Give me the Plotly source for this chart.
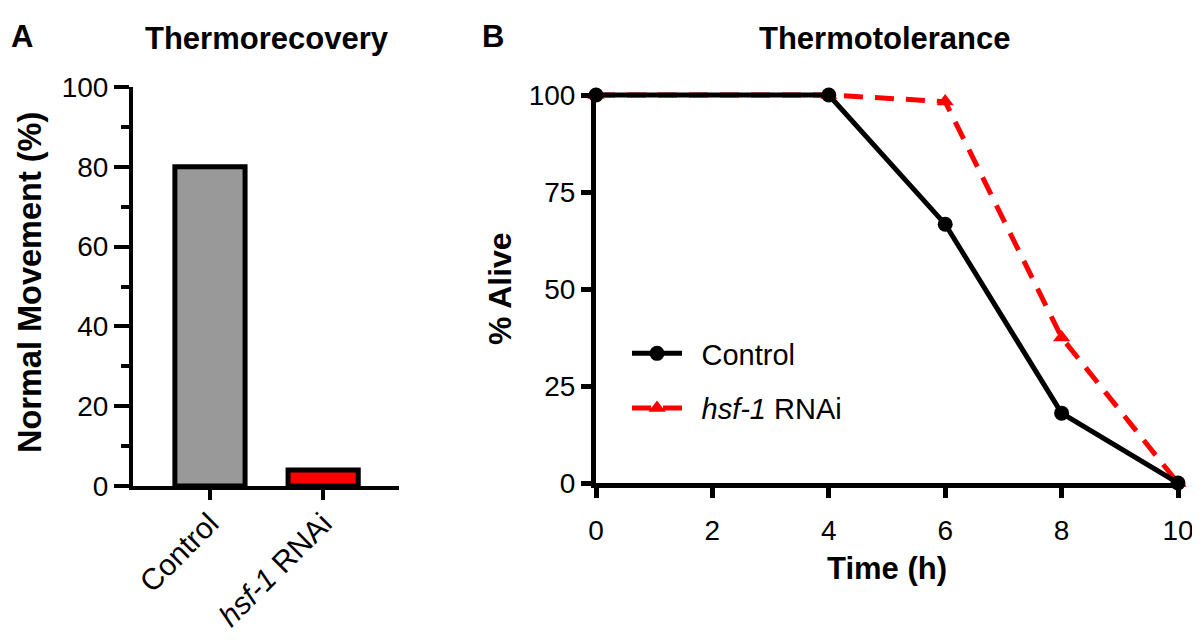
import plotly.graph_objects as go

# Panel A data
bar_categories = ["Control", "hsf-1 RNAi"]
bar_labels = ["Control", "<i>hsf-1</i> RNAi"]
bar_values = [80, 4]
bar_colors = ["#999999", "#ff0000"]

# Panel B data
time_h = [0, 4, 6, 8, 10]
control_alive = [100, 100, 66.7, 18, 0]
hsf1_alive = [100, 100, 98.3, 37.5, 0]
legend_names = ["Control", "<i>hsf-1</i> RNAi"]

OFF = 8  # page body margin
W, H = 1200 - OFF, 643 - OFF
FONT = "Liberation Sans, Arial, sans-serif"

def px_x(p):
    return (p - OFF) / W

def px_y(p):
    return 1 - (p - OFF) / H

fig = go.Figure()

fig.add_trace(go.Bar(
    x=bar_categories, y=bar_values,
    marker=dict(color=bar_colors, line=dict(color="black", width=5)),
    width=0.62, xaxis="x", yaxis="y", showlegend=False,
))

fig.add_trace(go.Scatter(
    x=time_h, y=hsf1_alive, mode="lines+markers", name="\u2002" + legend_names[1],
    line=dict(color="#ff0000", width=5, dash="19px,12px"),
    marker=dict(symbol="triangle-up", size=15, color="#ff0000"),
    cliponaxis=False, xaxis="x2", yaxis="y2",
    legendrank=2, legendgroup="b",
))
fig.add_trace(go.Scatter(
    x=time_h, y=control_alive, mode="lines+markers", name="\u2002" + legend_names[0],
    line=dict(color="black", width=5),
    marker=dict(symbol="circle", size=15, color="black"),
    cliponaxis=False, xaxis="x2", yaxis="y2",
    legendrank=1, legendgroup="a",
))

tickfont = dict(family=FONT, size=28, color="black")

# y range of panel B slightly above 100 so the line at 100 is not clipped
Y2_TOP = 101
y2_px_per_unit = (483 - 95) / 100.0
y2_top_px = 95 - (Y2_TOP - 100) * y2_px_per_unit


def ann(text, x, y, size, angle=0):
    return dict(text=text, x=px_x(x), y=px_y(y), xref="paper", yref="paper",
                xanchor="center", yanchor="middle", showarrow=False,
                textangle=angle, font=dict(family=FONT, size=size, color="black"))


fig.update_layout(
    width=W, height=H,
    margin=dict(l=0, r=0, t=0, b=0, autoexpand=False),
    plot_bgcolor="white", paper_bgcolor="white",
    font=dict(family=FONT, color="black"),
    xaxis=dict(
        domain=[px_x(133), px_x(399)], anchor="y", automargin=False,
        range=[-0.68, 1.67], type="category",
        tickmode="array", tickvals=bar_categories, ticktext=bar_labels,
        tickangle=-45, ticks="outside", ticklen=10, tickwidth=4, tickcolor="black",
        showline=True, linewidth=4, linecolor="black", showgrid=False, zeroline=False,
        tickfont=dict(family=FONT, size=30, color="black"), ticklabelstandoff=-6,
    ),
    yaxis=dict(
        domain=[px_y(486), px_y(87)], anchor="x", automargin=False,
        range=[0, 100], tickvals=[0, 20, 40, 60, 80, 100],
        ticks="outside", ticklen=15, tickwidth=4, tickcolor="black",
        minor=dict(tickvals=[10, 30, 50, 70, 90], ticks="outside", ticklen=8, tickwidth=4, tickcolor="black"),
        showline=True, linewidth=4, linecolor="black", showgrid=False, zeroline=False,
        tickfont=tickfont,
    ),
    xaxis2=dict(
        domain=[px_x(596), px_x(1178)], anchor="y2", automargin=False,
        range=[0, 10], tickvals=[0, 2, 4, 6, 8, 10],
        ticks="outside", ticklen=10, tickwidth=5, tickcolor="black",
        showline=True, linewidth=5, linecolor="black", showgrid=False, zeroline=False,
        tickfont=tickfont, ticklabelstandoff=8,
    ),
    yaxis2=dict(
        domain=[px_y(483), px_y(y2_top_px)], anchor="x2", automargin=False,
        range=[0, Y2_TOP], tickvals=[0, 25, 50, 75, 100],
        ticks="outside", ticklen=10, tickwidth=5, tickcolor="black",
        showline=True, linewidth=5, linecolor="black", showgrid=False, zeroline=False,
        tickfont=tickfont,
    ),
    legend=dict(
        x=px_x(627), y=px_y(328), xanchor="left", yanchor="top",
        font=dict(family=FONT, size=29, color="black"),
        bgcolor="rgba(0,0,0,0)", itemwidth=50, tracegroupgap=14,
        traceorder="grouped",
    ),
    annotations=[
        ann("<b>A</b>", 22, 37, 31),
        ann("<b>B</b>", 493, 37, 31),
        ann("<b>Thermorecovery</b>", 267, 39, 31),
        ann("<b>Thermotolerance</b>", 885, 39, 31),
        ann("<b>Normal Movement (%)</b>", 30, 283, 32.5, -90),
        ann("<b>% Alive</b>", 500, 289, 32, -90),
        ann("<b>Time (h)</b>", 887, 568, 31),
    ],
)

fig.write_html("out.html")
